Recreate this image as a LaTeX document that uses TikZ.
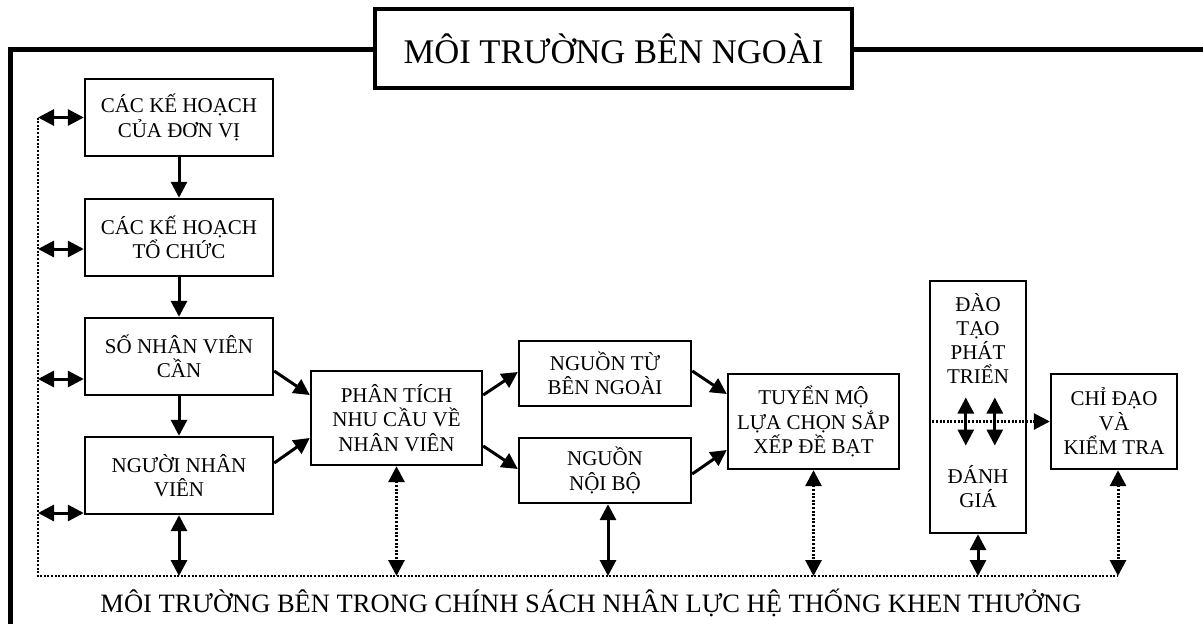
\documentclass[tikz,border=0pt]{standalone}
\usepackage{fontspec}
\setmainfont{Liberation Serif}
\usetikzlibrary{arrows.meta,calc}
\begin{document}
\begin{tikzpicture}[x=1pt,y=-1pt,
 box/.style={draw,line width=2.4pt,align=center,inner sep=0pt,font=\fontsize{21}{24.5}\selectfont},
 lbl/.style={align=center,inner sep=0pt,font=\fontsize{21}{24}\selectfont},
 arr/.style={line width=3pt,-{Triangle[length=16pt,width=16pt]}},
 darr/.style={line width=3pt,{Triangle[length=16pt,width=16pt]}-{Triangle[length=16pt,width=16pt]}},
 ddarr/.style={darr,dash pattern=on 2pt off 1.6pt},
 dotline/.style={line width=2.8pt,dash pattern=on 2pt off 1.6pt}]
\useasboundingbox (0,0) rectangle (1203,624);
\fill[white] (0,0) rectangle (1203,624);
% outer frame
\coordinate (FR) at (1203,49);
\coordinate (FC) at (10,49);
\coordinate (FB) at (10,624);
\draw[line width=5pt,line join=miter] (FR) -- (FC) -- (FB);
\node[draw,line width=3.4pt,fill=white,minimum width=477pt,minimum height=79pt,inner sep=0pt,font=\fontsize{34.6}{40}\selectfont] (title) at (613.5,48.5) {MÔI TRƯỜNG BÊN NGOÀI};
% boxes
\node[box,minimum width=188pt,minimum height=77pt] (b1) at (179,117.5) {CÁC KẾ HOẠCH\\CỦA ĐƠN VỊ};
\node[box,minimum width=188pt,minimum height=77pt] (b2) at (179,237.5) {CÁC KẾ HOẠCH\\TỔ CHỨC};
\node[box,minimum width=188pt,minimum height=77pt] (b3) at (179,356.5) {SỐ NHÂN VIÊN\\CẦN};
\node[box,minimum width=188pt,minimum height=77pt] (b4) at (179,475.5) {NGƯỜI NHÂN\\VIÊN};
\node[box,minimum width=171pt,minimum height=94pt] (pt) at (396.5,418) {PHÂN TÍCH\\NHU CẦU VỀ\\NHÂN VIÊN};
\node[box,minimum width=172pt,minimum height=65pt] (ng) at (605,373.5) {NGUỒN TỪ\\BÊN NGOÀI};
\node[box,minimum width=172pt,minimum height=65pt] (nb) at (605,470.5) {NGUỒN\\NỘI BỘ};
\node[box,minimum width=171pt,minimum height=95pt] (tm) at (813.5,421.5) {TUYỂN MỘ\\LỰA CHỌN SẮP\\XẾP ĐỀ BẠT};
\node[box,minimum width=96pt,minimum height=252pt] (dt) at (978,407) {};
\node[lbl] (dttop) at (978,338.5) {ĐÀO\\TẠO\\PHÁT\\TRIỂN};
\node[lbl] (dtbot) at (978,486.5) {ĐÁNH\\GIÁ};
\node[box,minimum width=126pt,minimum height=95pt] (cd) at (1114,421.5) {CHỈ ĐẠO\\VÀ\\KIỂM TRA};
% vertical flow
\draw[arr] (b1.south) -- (b2.north);
\draw[arr] (b2.south) -- (b3.north);
\draw[arr] (b3.south) -- (b4.north);
% diagonal flows
\draw[arr] ([yshift=-14.5pt]b3.east) -- ([yshift=23pt]pt.west);
\draw[arr] ([yshift=12.5pt]b4.east) -- ([yshift=-20pt]pt.west);
\draw[arr] ([yshift=23pt]pt.east) -- ([yshift=1.5pt]ng.west);
\draw[arr] ([yshift=-28pt]pt.east) -- ([yshift=1.5pt]nb.west);
\draw[arr] ([yshift=2.5pt]ng.east) -- ([yshift=27.5pt]tm.west);
\draw[arr] ([yshift=-3.5pt]nb.east) -- ([yshift=-28.5pt]tm.west);
% inner environment dotted line
\coordinate (L1) at (38,117.5);
\coordinate (L2) at (38,249);
\coordinate (L3) at (38,379);
\coordinate (L4) at (38,513);
\coordinate (BL) at (38,576);
\coordinate (BR) at (1118,576);
\draw[dotline] (L1) -- (BL) -- (BR);
\draw[darr] (L1) -- (b1.west);
\draw[darr] (L2) -- (b2.west |- L2);
\draw[darr] (L3) -- (b3.west |- L3);
\draw[darr] (L4) -- (b4.west |- L4);
% bottom connections
\draw[darr] (b4.south) -- (b4.south |- BL);
\draw[ddarr] (pt.south) -- (pt.south |- BL);
\draw[darr] ([xshift=3pt]nb.south) -- ([xshift=3pt]nb.south |- BL);
\draw[ddarr] (tm.south) -- (tm.south |- BL);
\draw[darr] (dt.south) -- (dt.south |- BL);
\draw[ddarr] ([xshift=4pt]cd.south) -- (BR);
% training box internals
\draw[line width=2.8pt,dash pattern=on 2pt off 1.6pt,-{Triangle[length=16pt,width=16pt]}] (dt.west |- cd.west) -- (cd.west);
\coordinate (s1a) at ($(dt.west |- cd.west)+(37,-24)$);
\coordinate (s1b) at ($(dt.west |- cd.west)+(37,24)$);
\coordinate (s2a) at ($(dt.west |- cd.west)+(66,-24)$);
\coordinate (s2b) at ($(dt.west |- cd.west)+(66,24)$);
\draw[darr] (s1a) -- (s1b);
\draw[darr] (s2a) -- (s2b);
% bottom label
\node[inner sep=0pt,font=\fontsize{26.5}{30}\selectfont] (inner) at (591,603) {MÔI TRƯỜNG BÊN TRONG CHÍNH SÁCH NHÂN LỰC HỆ THỐNG KHEN THƯỞNG};
\end{tikzpicture}
\end{document}
